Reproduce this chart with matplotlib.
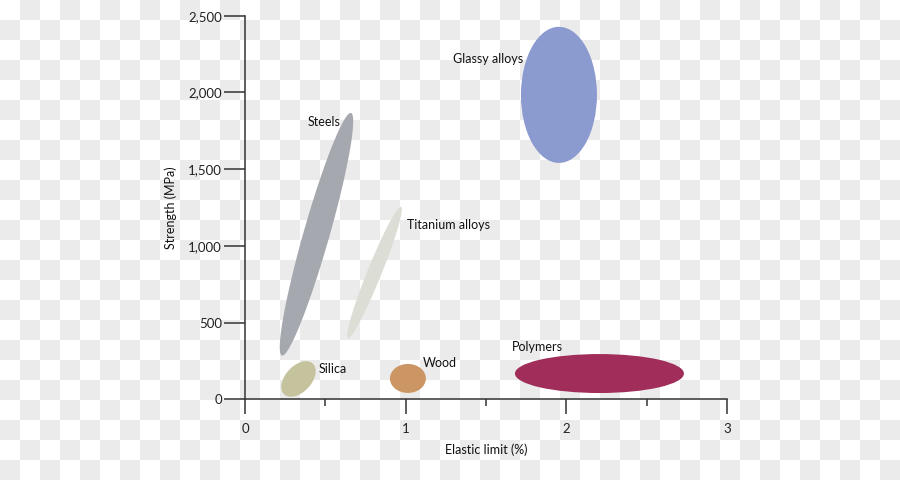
import numpy as np
import matplotlib
matplotlib.use('Agg')
import matplotlib.pyplot as plt
from matplotlib.colors import ListedColormap
from matplotlib.patches import Ellipse, Polygon

plt.rcParams['font.family'] = ['Lato', 'DejaVu Sans']

# upright regions: centre x, centre y, x range width, y range height
upright_names = ['Glassy alloys', 'Polymers', 'Wood']
upright_cx = [1.954, 2.206, 1.014]
upright_cy = [1984, 168, 136]
upright_w = [0.473, 1.052, 0.224]
upright_h = [887, 254, 189]
upright_colors = ['#8b9acf', '#a12d5b', '#cc9664']

# tilted regions: two tips of the long axis (x, MPa) and thickness ratio
tilted_names = ['Steels', 'Titanium alloys', 'Silica']
tilted_lo = [(0.230, 285), (0.641, 400), (0.244, 32)]
tilted_hi = [(0.660, 1866), (0.971, 1254), (0.422, 233)]
tilted_ratio = [0.103, 0.10, 0.62]
tilted_colors = ['#a5a8ae', '#dcddd5', '#c5c39e']

# label anchors
label_text = ['Glassy alloys', 'Steels', 'Titanium alloys', 'Silica', 'Wood', 'Polymers']
label_x = [1.730, 0.392, 1.008, 0.460, 1.108, 1.661]
label_y = [2218, 1808, 1136, 198, 237, 341]
label_ha = ['right', 'left', 'left', 'left', 'left', 'left']

x_ticks = [0, 1, 2, 3]
x_minor = [0.5, 1.5, 2.5]
y_ticks = [0, 500, 1000, 1500, 2000, 2500]
y_labels = ['0', '500', '1,000', '1,500', '2,000', '2,500']


def tilted_ellipse(ax, lo, hi, ratio, color):
    d = ax.transData.transform([lo, hi])
    c = d.mean(axis=0)
    v = (d[1] - d[0]) / 2
    n = np.array([-v[1], v[0]]) * ratio
    t = np.linspace(0, 2 * np.pi, 240)
    pts = c + np.outer(np.cos(t), v) + np.outer(np.sin(t), n)
    ax.add_patch(Polygon(ax.transData.inverted().transform(pts),
                         closed=True, facecolor=color, edgecolor='none'))


fig = plt.figure(figsize=(9, 4.8), dpi=100)

# checkerboard backdrop
bg = fig.add_axes([0, 0, 1, 1], zorder=0)
checker = np.add.outer(np.arange(24), np.arange(45)) % 2
bg.imshow(checker, cmap=ListedColormap(['white', '#ebebeb']),
          aspect='auto', interpolation='nearest', extent=[0, 900, 480, 0])
bg.axis('off')

ax = fig.add_axes([0.2722, 0.1681, 0.5356, 0.7992], zorder=1)
ax.patch.set_alpha(0)
ax.set_xlim(0, 3)
ax.set_ylim(0, 2500)

for cx, cy, w, h, col in zip(upright_cx, upright_cy, upright_w, upright_h, upright_colors):
    ax.add_patch(Ellipse((cx, cy), w, h, facecolor=col, edgecolor='none'))

for lo, hi, r, col in zip(tilted_lo, tilted_hi, tilted_ratio, tilted_colors):
    tilted_ellipse(ax, lo, hi, r, col)

for txt, x, y, ha in zip(label_text, label_x, label_y, label_ha):
    ax.text(x, y, txt, ha=ha, va='center', fontsize=9, color='#111111')

for s in ['top', 'right']:
    ax.spines[s].set_visible(False)
for s in ['left', 'bottom']:
    ax.spines[s].set_linewidth(1.1)
    ax.spines[s].set_color('#333333')

ax.set_xticks(x_ticks)
ax.set_xticklabels([str(v) for v in x_ticks])
ax.set_xticks(x_minor, minor=True)
ax.set_yticks(y_ticks)
ax.set_yticklabels(y_labels)
ax.tick_params(axis='y', direction='out', length=15, width=1.1, color='#333333',
               pad=1.5, labelsize=9.5, labelcolor='#222222')
ax.tick_params(axis='x', which='major', direction='out', length=10.8, width=1.1,
               color='#333333', pad=6, labelsize=9.5, labelcolor='#222222')
ax.tick_params(axis='x', which='minor', direction='out', length=5, width=1.1,
               color='#333333')

ax.set_xlabel('Elastic limit (%)', fontsize=9, color='#111111', labelpad=6)
ax.set_ylabel('Strength (MPa)', fontsize=9, color='#111111', labelpad=8)

fig.savefig('out.png', dpi=100)
